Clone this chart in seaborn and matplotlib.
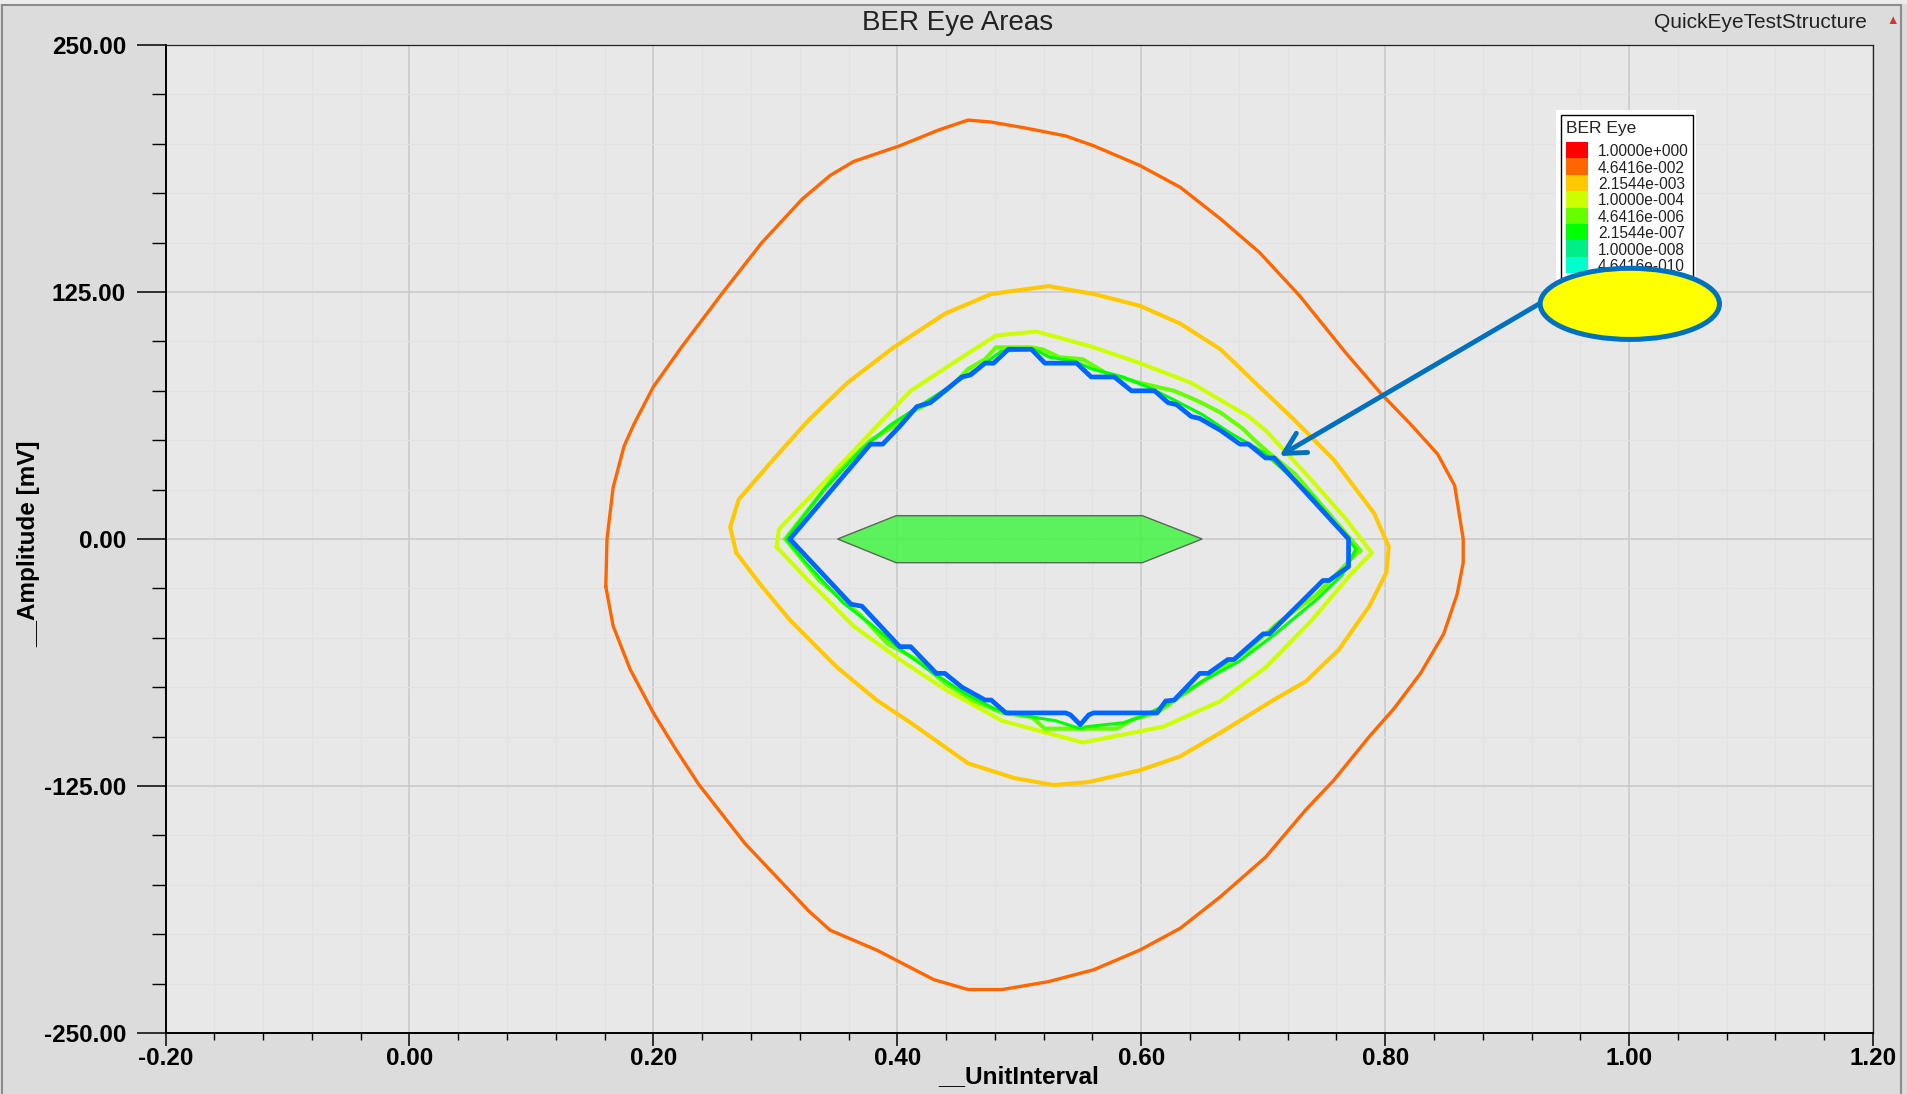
import numpy as np
import pandas as pd
import matplotlib
matplotlib.use("Agg")
import matplotlib.pyplot as plt
import seaborn as sns
from matplotlib.patches import Rectangle, Ellipse
from matplotlib.ticker import MultipleLocator, FuncFormatter

# ---------------- data ----------------
# BER contour 4.6416e-002 (orange)
ui_046 = [0.161, 0.162, 0.167, 0.176, 0.184, 0.200, 0.223, 0.256, 0.289, 0.322, 0.345, 0.364, 0.402,
          0.434, 0.458, 0.477, 0.505, 0.538, 0.561, 0.599, 0.632, 0.665, 0.697, 0.730, 0.768, 0.796,
          0.821, 0.843, 0.857, 0.864, 0.864, 0.859, 0.848, 0.829, 0.807, 0.787, 0.758, 0.735, 0.702,
          0.665, 0.632, 0.599, 0.561, 0.524, 0.486, 0.458, 0.430, 0.383, 0.345, 0.327, 0.275, 0.237,
          0.219, 0.200, 0.181, 0.167, 0.161]
mv_046 = [-24, 0, 26, 47, 58, 77, 97, 124, 150, 172, 184, 191, 199,
          207, 212, 211, 208, 204, 199, 189, 178, 162, 145, 123, 94, 74,
          58, 43, 27, 0, -12, -28, -48, -68, -86, -100, -122, -137, -161,
          -181, -197, -208, -218, -224, -228, -228, -223, -208, -198, -188, -154, -124,
          -107, -88, -66, -44, -24]

# BER contour 2.1544e-003 (amber)
ui_002 = [0.268, 0.263, 0.270, 0.298, 0.327, 0.359, 0.397, 0.439, 0.477, 0.524, 0.561, 0.599, 0.632,
          0.665, 0.697, 0.726, 0.758, 0.791, 0.803, 0.801, 0.787, 0.762, 0.735, 0.707, 0.665, 0.632,
          0.599, 0.557, 0.528, 0.496, 0.458, 0.411, 0.383, 0.350, 0.312, 0.289, 0.268]
mv_002 = [-7, 6, 20, 40, 60, 79, 97, 114, 124, 128, 124, 118, 109,
          96, 77, 60, 40, 13, -4, -17, -34, -56, -72, -82, -98, -110,
          -117, -123, -124.5, -121, -113.5, -93, -81.5, -64.6, -41, -24, -7]

# BER contour 1.0000e-004 (yellow-green)
ui_1e4 = [0.301, 0.303, 0.345, 0.383, 0.411, 0.453, 0.481, 0.514, 0.538, 0.561, 0.599, 0.641, 0.688,
          0.702, 0.735, 0.768, 0.789, 0.773, 0.740, 0.702, 0.665, 0.618, 0.552, 0.486, 0.439, 0.402,
          0.364, 0.327, 0.301]
mv_1e4 = [-4, 5, 32, 57, 75, 92, 103, 105, 101, 97, 89, 79, 62,
          55, 33, 10, -7, -17, -41, -65, -82, -95, -103, -92, -76, -61,
          -44, -21, -4]

# BER contour 4.6416e-006 (lime)
ui_46e6 = [0.308, 0.322, 0.350, 0.378, 0.397, 0.411, 0.430, 0.444, 0.458, 0.472, 0.481, 0.510, 0.519,
           0.533, 0.552, 0.571, 0.599, 0.627, 0.646, 0.665, 0.683, 0.693, 0.704, 0.726, 0.758, 0.780,
           0.777, 0.744, 0.711, 0.688, 0.660, 0.636, 0.613, 0.594, 0.580, 0.521, 0.510, 0.486, 0.463,
           0.439, 0.416, 0.392, 0.369, 0.336, 0.308]
mv_46e6 = [0, 11, 33, 50, 57, 64, 70, 77, 86, 91, 97, 97, 96,
           92, 91, 84, 79, 75, 70, 64, 56, 50, 44, 33, 10, -6,
           -7, -28, -43, -56, -68, -78, -88, -91, -96, -96, -90, -88, -82,
           -73, -61, -53, -38, -21, 0]

# BER contour 2.1544e-007 (green)
ui_2e7 = [0.309, 0.340, 0.370, 0.395, 0.420, 0.445, 0.470, 0.485, 0.512, 0.525, 0.545, 0.560, 0.585,
          0.605, 0.625, 0.650, 0.672, 0.700, 0.740, 0.776, 0.765, 0.745, 0.710, 0.680, 0.650, 0.620,
          0.600, 0.585, 0.555, 0.550, 0.530, 0.500, 0.480, 0.455, 0.430, 0.405, 0.380, 0.355, 0.325,
          0.309]
mv_2e7 = [0, 25, 45, 58, 68, 78, 88, 95, 96, 92, 90, 86, 82,
          77, 71, 63, 54, 44, 22, -5, -18, -30, -48, -62, -72, -84,
          -90, -93, -95, -96, -92, -89, -86, -78, -68, -57, -44, -32, -12,
          0]

# innermost contour (blue)
ui_blue = [0.312, 0.378, 0.388, 0.402, 0.416, 0.427, 0.439, 0.453, 0.460, 0.472, 0.479, 0.491, 0.510,
           0.521, 0.547, 0.559, 0.578, 0.592, 0.611, 0.622, 0.629, 0.641, 0.648, 0.665, 0.681, 0.688,
           0.702, 0.709, 0.770, 0.770, 0.754, 0.749, 0.705, 0.700, 0.676, 0.671, 0.655, 0.648, 0.627,
           0.620, 0.613, 0.561, 0.557, 0.550, 0.542, 0.538, 0.489, 0.477, 0.472, 0.453, 0.439, 0.432,
           0.411, 0.402, 0.371, 0.362, 0.312]
mv_blue = [0, 48, 48, 57, 67, 69, 75, 82, 83, 89, 89, 96, 96,
           89, 89, 82, 82, 75, 75, 69, 68, 62, 61, 55, 48, 48,
           41, 41, 0, -14, -21, -21, -48, -48, -61, -61, -68, -68, -81.5,
           -82, -88, -88, -89, -94, -89, -88, -88, -81.5, -81.5, -75, -68, -68,
           -54.5, -54.5, -34, -33, 0]

# eye mask polygon
mask_ui = [0.351, 0.399, 0.601, 0.650, 0.601, 0.399]
mask_mv = [0, 11.8, 11.8, 0, -12, -12]

# legend entries
legend_labels = ["1.0000e+000", "4.6416e-002", "2.1544e-003", "1.0000e-004",
                 "4.6416e-006", "2.1544e-007", "1.0000e-008", "4.6416e-010"]
legend_colors = ["#FF0000", "#FF6600", "#FFC800", "#CCFF00",
                 "#66FF00", "#00FF00", "#00EE88", "#00FFCC"]

# ---------------- styling ----------------
sns.set_style("ticks")
plt.rcParams["font.family"] = ["Liberation Sans", "DejaVu Sans"]
plt.rcParams["axes.unicode_minus"] = False

W, H = 1907, 1094
fig = plt.figure(figsize=(W / 100, H / 100), dpi=100, facecolor="#dcdcdc")
ax = fig.add_axes([165.5 / W, 1 - 1033 / H, 1707.5 / W, 988 / H])
ax.set_facecolor("#e8e8e8")
ax.set_axisbelow(True)

curves = [
    (ui_046, mv_046, "#FF6600", 2.4, 3),
    (ui_002, mv_002, "#FFC800", 2.9, 3),
    (ui_1e4, mv_1e4, "#CCFF00", 2.9, 4),
    (ui_46e6, mv_46e6, "#66FF00", 2.9, 5),
    (ui_2e7, mv_2e7, "#00FF00", 2.2, 6),
    (ui_blue, mv_blue, "#0066FF", 3.4, 7),
]
for ui, mv, col, lw, z in curves:
    sns.lineplot(x=ui, y=mv, sort=False, estimator=None, color=col, lw=lw,
                 ax=ax, zorder=z, legend=False)

ax.fill(mask_ui, mask_mv, facecolor="#43F443", alpha=0.85, edgecolor="#505050",
        lw=1.0, zorder=8)

ax.set_xlim(-0.2, 1.2)
ax.set_ylim(-250, 250)
ax.set_xlabel("")
ax.set_ylabel("")

fmt = FuncFormatter(lambda v, p: "%.2f" % (0.0 if abs(v) < 1e-9 else v))
ax.xaxis.set_major_locator(MultipleLocator(0.2))
ax.xaxis.set_minor_locator(MultipleLocator(0.04))
ax.yaxis.set_major_locator(MultipleLocator(125))
ax.yaxis.set_minor_locator(MultipleLocator(25))
ax.xaxis.set_major_formatter(fmt)
ax.yaxis.set_major_formatter(fmt)

ax.grid(which="major", color="#c8c8c8", lw=1.1)
ax.grid(which="minor", color="#e2e2e2", lw=0.8)

ax.tick_params(axis="y", which="major", length=21, width=1.1, pad=7.5, direction="out",
               labelsize=17.5, colors="black")
ax.tick_params(axis="y", which="minor", length=10, width=1.0, direction="out", color="black")
ax.tick_params(axis="x", which="major", length=9, width=1.1, pad=1.0, direction="out",
               labelsize=17.5, colors="black")
ax.tick_params(axis="x", which="minor", length=5, width=1.0, direction="out", color="black")
for lab in ax.get_xticklabels() + ax.get_yticklabels():
    lab.set_fontweight("bold")

for side in ["left", "bottom"]:
    ax.spines[side].set_color("black")
    ax.spines[side].set_linewidth(1.4)
for side in ["top", "right"]:
    ax.spines[side].set_color("#222222")
    ax.spines[side].set_linewidth(0.9)

# ---------------- legend (manual colour key) ----------------
def axf(x, y):
    return ((x - 165.5) / 1707.5, (1033 - y) / 988)

ox, oy = axf(1556, 283)
ax.add_patch(Rectangle((ox, oy), 140 / 1707.5, 173 / 988, transform=ax.transAxes,
                       facecolor="white", edgecolor="none", zorder=9, clip_on=False))
bx, by = axf(1560.7, 280)
ax.add_patch(Rectangle((bx, by), 132 / 1707.5, 165 / 988, transform=ax.transAxes,
                       facecolor="white", edgecolor="black", lw=1.0, zorder=9.1, clip_on=False))
tx, ty = axf(1566, 128)
ax.text(tx, ty, "BER Eye", transform=ax.transAxes, ha="left", va="center",
        fontsize=12.5, color="#222222", zorder=9.2)
row_h = 16.4
for i, (lab, col) in enumerate(zip(legend_labels, legend_colors)):
    top = 142 + i * row_h
    sx, sy = axf(1566, top + row_h)
    ax.add_patch(Rectangle((sx, sy), 21.7 / 1707.5, row_h / 988, transform=ax.transAxes,
                           facecolor=col, edgecolor="none", zorder=9.2))
    lx, ly = axf(1598, top + row_h / 2 + 1.5)
    ax.text(lx, ly, lab, transform=ax.transAxes, ha="left", va="center",
            fontsize=11.2, color="#222222", zorder=9.2)

# ---------------- callout ----------------
callout_center = (1.0006, 119.0)
callout_w, callout_h = 0.147, 36.0
arrow_tail = (0.926, 118.9)
arrow_head = (0.7134, 42.0)
ax.annotate("", xy=arrow_head, xytext=arrow_tail,
            arrowprops=dict(arrowstyle="->,head_length=0.75,head_width=0.4", color="#0070C0",
                            lw=3.5, mutation_scale=20, shrinkA=0, shrinkB=0),
            zorder=11)
ax.add_patch(Ellipse(callout_center, callout_w, callout_h, facecolor="#FFFF00",
                     edgecolor="#0070C0", lw=3.6, zorder=12))

# ---------------- titles / labels ----------------
fig.text(958 / W, 1 - 23.5 / H, "BER Eye Areas", ha="center", va="center",
         fontsize=20, color="#222222")
fig.text(1867 / W, 1 - 23 / H, "QuickEyeTestStructure", ha="right", va="center",
         fontsize=15, color="#222222")
fig.text(1893 / W, 1 - 21 / H, "▲", ha="center", va="center", fontsize=9, color="#e03030")
fig.text(1019 / W, 1 - 1077 / H, "__UnitInterval", ha="center", va="center",
         fontsize=17.5, fontweight="bold", color="black")
fig.text(29 / W, 1 - 544 / H, "__Amplitude [mV]", ha="center", va="center",
         rotation=90, fontsize=17.5, fontweight="bold", color="black")

# window frame
fig.patches.append(Rectangle((0, 1 - 4 / H), 1, 4 / H, transform=fig.transFigure,
                             facecolor="#ececec", edgecolor="none", zorder=0))
fig.patches.append(Rectangle((2 / W, -0.01), 1899 / W, (H - 5) / H + 0.01,
                             transform=fig.transFigure, fill=False,
                             edgecolor="#8c8c8c", lw=1.5, zorder=1))

fig.savefig("out.png", dpi=100, facecolor=fig.get_facecolor())
